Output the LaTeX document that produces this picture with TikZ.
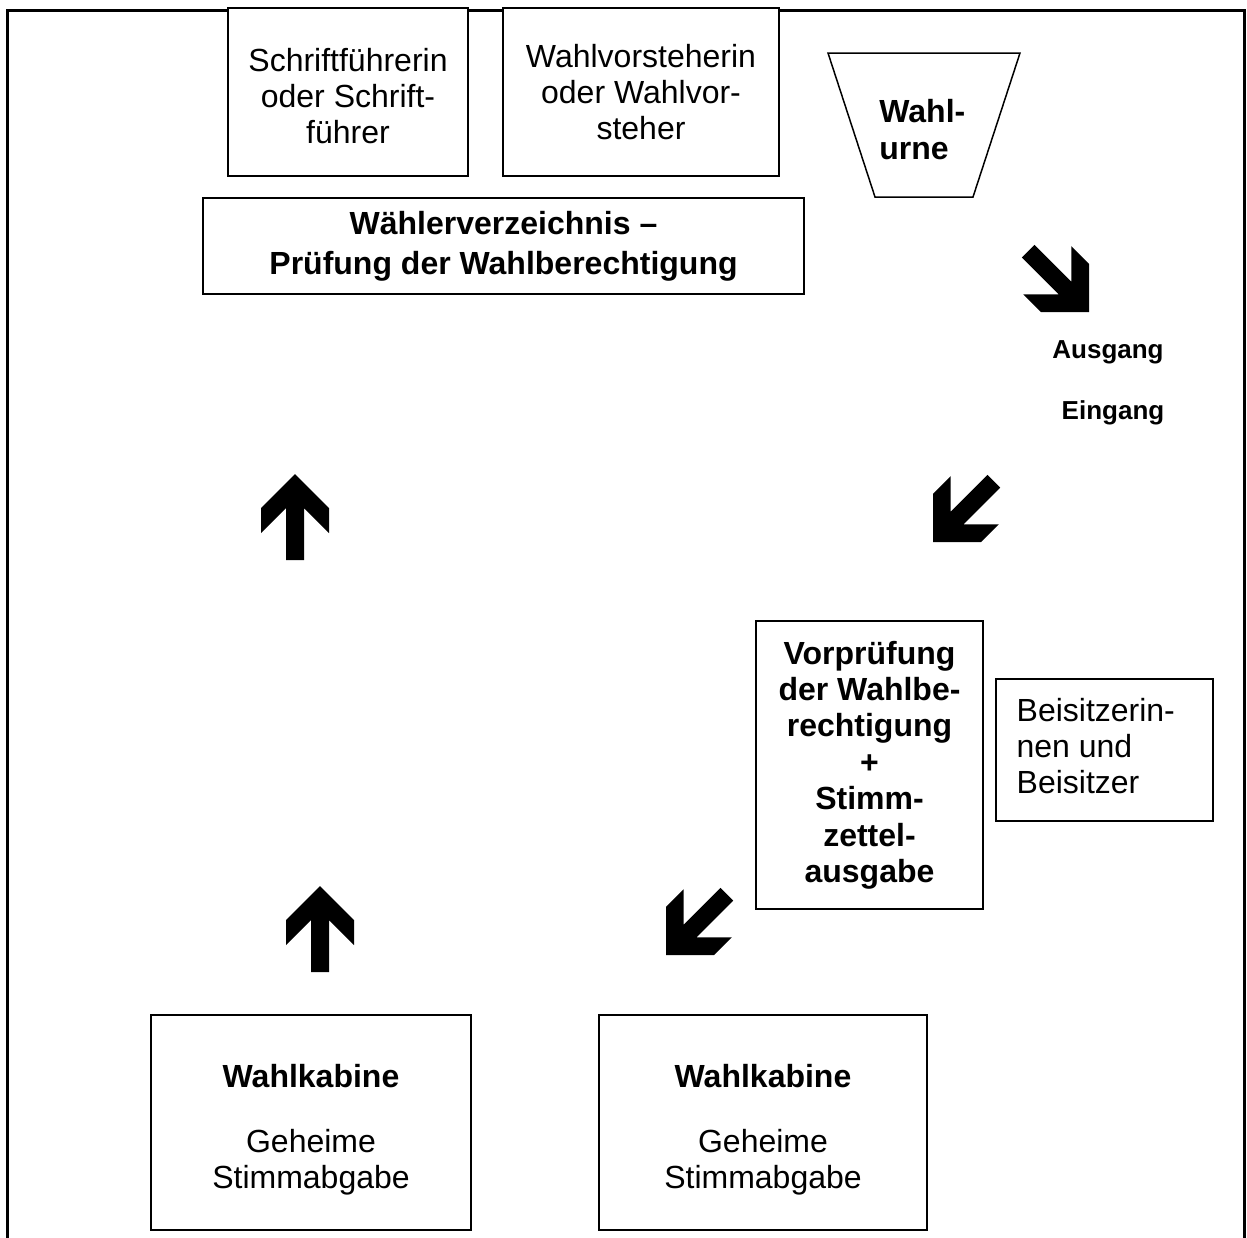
\documentclass[tikz,border=0pt]{standalone}
\usepackage{fontspec}
\setmainfont{Liberation Sans}
\tikzset{
  box/.style={draw, fill=white, line width=0.75pt, inner sep=0pt, align=center,
    font=\fontsize{16}{18}\selectfont},
  boxtext/.style={inner sep=0pt, align=center, font=\fontsize{16}{18}\selectfont},
  frame/.style={line width=1.5pt},
  door/.style={font=\fontsize{13}{15.6}\selectfont\bfseries},
  blockarrow/.pic={
    \fill (0,0) -- (34,34) -- (34,59) -- (9,34) -- (9,86) -- (-9,86)
      -- (-9,34) -- (-34,59) -- (-34,34) -- cycle;
  }
}

\begin{document}
\begin{tikzpicture}[x=0.5pt, y=-0.5pt]
  \useasboundingbox (0,0) rectangle (1247,1237);

  %%%%% room %%%%%
  \draw[frame] (7,1260) -- (7,10) -- (1244,10) -- (1244,1260);

  %%%%% board %%%%%
  \node[box, minimum width=120pt, minimum height=84pt] (schrift) at (348,92) {};
  \node[boxtext] (schrifttxt) at ([yshift=-2pt]schrift.center)
    {Schriftführerin\\oder Schrift-\\führer};
  \node[box, minimum width=138pt, minimum height=84pt] (vorsteher) at (641,92)
    {Wahlvorsteherin\\oder Wahlvor-\\steher};
  \node[box, minimum width=300.5pt, minimum height=48pt,
    font=\fontsize{16}{20}\selectfont\bfseries] (verzeichnis) at (503.5,246)
    {Wählerverzeichnis --\\Prüfung der Wahlberechtigung};

  % urn
  \draw[line width=0.75pt] (828,53) -- (1020,53) -- (973,197) -- (875,197) -- cycle;
  \node[anchor=west, align=left, inner sep=0pt,
    font=\fontsize{16}{18.5}\selectfont\bfseries] (urne) at (879,130) {Wahl-\\urne};

  % doors
  \node[door] (ausgang) at (1108,352) {Ausgang};
  \node[door] (eingang) at (1113,413) {Eingang};

  %%%%% desk %%%%%
  \node[box, minimum width=113.5pt, minimum height=144pt, font=\fontsize{16}{18.2}\selectfont\bfseries]
    (vorpruefung) at (869.5,765)
    {Vorprüfung\\der Wahlbe-\\rechtigung\\+\\Stimm-\\zettel-\\ausgabe};
  \node[box, minimum width=108.5pt, minimum height=71pt] (beisitzer) at (1104.5,750) {};
  \node[boxtext, anchor=west, align=left] (beisitzertxt) at ([xshift=10.5pt, yshift=2pt]beisitzer.west)
    {Beisitzerin-\\nen und\\Beisitzer};

  %%%%% booths %%%%%
  \node[box, minimum width=160pt, minimum height=107.5pt] (kabineA) at (311,1122.5) {};
  \node[box, minimum width=164pt, minimum height=107.5pt] (kabineB) at (763,1122.5) {};
  \node[boxtext] (kabineAtxt) at ([yshift=-3.5pt]kabineA.center)
    {\textbf{Wahlkabine}\\[14.5pt]Geheime\\Stimmabgabe};
  \node[boxtext] (kabineBtxt) at ([yshift=-3.5pt]kabineB.center)
    {\textbf{Wahlkabine}\\[14.5pt]Geheime\\Stimmabgabe};

  %%%%% walking direction %%%%%
  \pic[rotate=-135] at (1089,312) {blockarrow};
  \pic[rotate=135] at (933,542) {blockarrow};
  \pic[rotate=135] at (666,955) {blockarrow};
  \pic at (320,886) {blockarrow};
  \pic at (295,474) {blockarrow};
\end{tikzpicture}
\end{document}
